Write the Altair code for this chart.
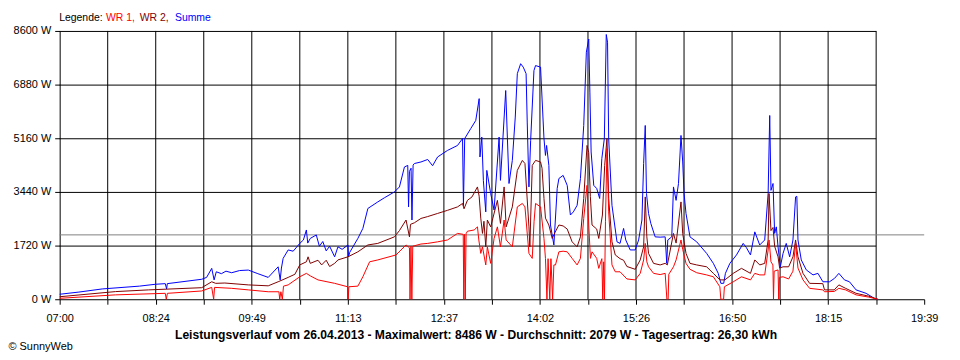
import altair as alt
import pandas as pd

# ---------------- data ----------------
legend_labels = ["Legende:", "WR 1,", "WR 2,", "Summe"]
legend_colors = ["#000000", "#FF0000", "#800000", "#0000FF"]
series_names = ["Summe", "WR 2", "WR 1"]
series_colors = ["#0000FF", "#800000", "#FF0000"]
x_tick_labels = ["07:00", "08:24", "09:49", "11:13", "12:37", "14:02",
                 "15:26", "16:50", "18:15", "19:39"]
y_tick_values = [0, 1720, 3440, 5160, 6880, 8600]
average_w = 2079
title_text = ("Leistungsverlauf vom 26.04.2013 - Maximalwert: 8486 W - "
              "Durchschnitt: 2079 W - Tagesertrag: 26,30 kWh")
copyright_text = "© SunnyWeb"

# (minutes since midnight, watts)
summe = [(420.0,160),(436.9,230),(457.3,330),(490.0,420),(504.0,480),(512.7,500),(513.9,330),(514.5,500),
 (544.7,640),(549.0,700),(553.5,990),(555.6,620),(557.5,880),(562.0,820),(566.0,900),(571.0,850),(578.0,920),
 (585.6,935),(594.0,820),(603.1,700),(611.8,1040),(613.6,620),(614.7,1000),(616.2,1310),(620.6,1580),(625.0,1540),
 (630.8,1790),(634.0,1900),(636.6,2220),(637.8,1800),(640.0,1950),(645.3,2060),(648.0,1700),(651.0,1850),
 (654.0,1550),(657.0,1700),(661.4,1360),(664.3,1680),(668.0,1600),(673.1,1740),(673.6,1360),(674.6,1500),
 (681.8,1950),(686.2,2270),(690.6,2910),(699.3,3120),(705.0,3250),(713.9,3440),(718.3,3600),(722.7,4240),
 (725.6,4290),(726.3,2960),(727.1,4100),(728.5,4200),(729.3,2540),(730.3,4300),(731.4,4350),(737.2,4400),
 (743.1,4480),(747.4,4280),(751.8,4560),(760.5,4770),(769.3,4930),(773.7,5150),(774.5,3000),(775.6,5150),
 (780.9,5470),(785.3,5730),(788.3,6430),(789.0,4560),(790.6,5200),(792.0,3800),(794.1,2800),(795.0,4130),
 (798.4,3390),(801.4,2860),(805.8,5200),(807.0,3810),(811.6,6690),(814.5,3710),(817.4,4450),(820.0,5840),
 (821.8,7230),(824.7,7550),(827.0,7440),(829.5,7230),(830.5,5680),(832.0,3600),(833.5,5090),(836.4,7330),
 (837.8,7490),(842.2,7440),(845.2,5150),(846.5,4610),(847.5,4930),(849.5,4290),(850.9,2380),(853.9,1740),
 (856.8,3550),(858.3,3870),(862.0,3970),(865.6,3650),(868.4,2700),(871.0,2800),(874.3,3010),(877.2,3870),
 (880.1,5570),(882.4,7920),(884.5,8340),(885.5,6640),(886.6,4720),(888.9,3650),(891.5,3550),(894.1,3230),
 (896.0,4510),(898.2,5150),(899.9,8486),(901.0,8240),(902.0,5150),(904.9,3010),(909.3,1840),(912.0,1790),
 (915.1,2270),(917.0,1900),(920.9,1580),(925.3,1580),(928.3,1900),(931.2,2540),(932.7,4350),(934.1,5570),
 (935.2,3390),(937.0,2750),(939.0,2430),(942.8,2000),(947.2,1990),(951.6,2000),(953.0,1150),(953.9,1900),
 (957.4,2000),(958.9,3600),(961.2,3170),(963.3,3710),(965.5,5250),(967.0,4400),(968.2,3390),(969.9,2750),
 (973.4,2000),(979.3,1840),(988.0,1470),(993.9,1150),(998.2,830),(1000.5,510),(1003.0,510),(1004.5,830),
 (1008.4,1150),(1014.2,1420),(1020.1,1790),(1023.0,1650),(1026.5,1420),(1030.3,2160),(1034.6,1740),
 (1039.0,1900),(1042.0,3390),(1043.4,5890),(1044.5,3490),(1046.3,3710),(1047.7,2110),(1049.2,2320),
 (1050.7,1680),(1052.7,1040),(1055.1,1470),(1057.9,1790),(1060.9,1360),(1063.8,1900),(1066.1,3280),
 (1067.2,3300),(1068.2,1900),(1071.1,1260),(1075.5,940),(1081.4,780),(1085.7,830),(1090.1,560),(1095.9,560),
 (1100.3,670),(1104.1,830),(1109.0,620),(1113.4,560),(1119.2,300),(1128.0,190),(1135.2,30),(1138.2,0)]

wr2 = [(420.0,80),(469.0,245),(498.1,300),(544.7,370),(553.5,560),(557.0,510),(565.0,520),(585.6,460),
 (603.1,430),(611.8,560),(620.6,700),(626.5,800),(630.8,1100),(636.6,1200),(638.1,1360),(640.0,1150),
 (646.8,1250),(650.0,1100),(654.0,1250),(657.0,1050),(661.4,1150),(664.3,1260),(673.1,1360),(681.8,1520),
 (690.6,1740),(699.3,1790),(713.9,2000),(718.3,2200),(724.1,2540),(727.1,2000),(728.0,2400),(731.4,2450),
 (737.2,2590),(743.1,2650),(751.8,2750),(760.5,2850),(769.3,2960),(773.7,3070),(775.0,2900),(778.0,3170),
 (782.0,3280),(786.8,3600),(788.3,3300),(789.7,2600),(791.2,2110),(792.5,2500),(794.1,1680),(795.5,2540),
 (798.4,2320),(804.3,3170),(807.0,2430),(810.2,3600),(812.0,2320),(817.4,2960),(821.8,4130),(826.2,4450),
 (828.5,4350),(832.0,2320),(832.8,1680),(834.9,4290),(837.8,4450),(842.2,4400),(843.5,4200),(845.2,3230),
 (846.5,2600),(849.5,2380),(852.4,1950),(855.0,2150),(858.3,2380),(862.0,2350),(865.6,2250),(869.9,1840),
 (874.3,1680),(877.2,2000),(880.1,3230),(883.0,4930),(884.5,4700),(885.9,3300),(887.4,2380),(891.5,2250),
 (893.3,1950),(896.5,2700),(898.5,4290),(900.5,5150),(902.0,3230),(904.9,1840),(907.8,1420),(912.0,1300),
 (915.1,1250),(918.0,1050),(925.3,960),(929.7,1260),(932.7,1680),(934.1,3280),(935.5,2000),(937.0,1470),
 (941.4,1150),(947.2,1100),(951.6,1150),(953.5,1100),(958.9,2110),(961.2,1800),(965.5,3120),(967.0,2100),
 (969.9,1470),(973.4,1150),(979.3,1100),(988.0,1040),(993.9,830),(999.6,620),(1004.0,620),(1011.4,830),
 (1018.6,990),(1026.5,830),(1030.3,1260),(1034.6,1100),(1039.0,1150),(1042.0,1900),(1042.8,3390),
 (1044.5,2200),(1046.3,2300),(1047.7,1700),(1050.7,1360),(1052.1,1000),(1055.1,1040),(1060.0,1040),
 (1063.8,1360),(1066.1,1900),(1068.2,1360),(1072.6,830),(1078.4,510),(1090.0,500),(1091.5,300),(1100.0,300),
 (1104.1,460),(1110.0,350),(1119.2,190),(1130.0,100),(1138.2,0)]

wr1 = [(420.0,30),(469.0,140),(512.7,190),(513.6,0),(514.6,190),(544.7,265),(553.5,380),(555.2,0),(556.0,380),
 (571.0,350),(585.6,300),(603.1,240),(612.5,240),(613.2,0),(614.2,240),(615.5,0),(616.5,420),(620.6,460),
 (630.8,720),(636.6,830),(640.0,750),(646.8,620),(661.4,510),(672.8,400),(673.3,0),(673.9,400),(681.8,420),
 (686.2,720),(692.1,1200),(699.3,1260),(715.3,1420),(724.1,1740),(727.1,1650),(727.6,0),(728.4,1700),
 (729.2,0),(730.0,1700),(737.2,1770),(743.1,1790),(751.8,1840),(760.5,1900),(769.3,2110),(774.3,2080),
 (774.8,0),(775.4,2080),(776.1,0),(776.8,2100),(778.0,2180),(783.9,2220),(786.8,2320),(788.0,1900),
 (789.7,1470),(791.2,1680),(794.1,1100),(795.5,1680),(798.4,1150),(801.4,1950),(804.3,2320),(807.0,1680),
 (810.2,2540),(812.0,1900),(817.4,1680),(821.8,2960),(826.2,3070),(828.5,2960),(832.0,1470),(834.9,1310),
 (836.5,2500),(837.8,3070),(842.2,2960),(845.2,1950),(846.5,1310),(847.8,0),(848.8,1300),(850.3,0),
 (851.3,1300),(852.8,0),(853.9,1100),(855.3,1100),(858.3,1520),(862.0,1540),(865.6,1520),(869.9,1310),
 (874.3,1100),(877.2,1310),(880.1,2590),(883.0,3650),(884.5,2380),(886.0,1310),(887.4,1520),(891.5,1310),
 (893.3,990),(896.0,1300),(896.8,0),(897.6,1200),(898.3,0),(899.2,2500),(900.5,4830),(902.0,2800),
 (904.9,1100),(907.8,880),(912.0,880),(918.0,650),(925.3,620),(929.7,830),(932.7,1260),(934.1,1790),
 (935.5,1200),(937.0,1040),(941.4,830),(947.2,790),(951.6,830),(953.1,0),(954.2,0),(954.8,800),(958.9,1040),
 (961.2,1260),(965.5,1900),(967.0,1600),(969.9,1150),(973.4,960),(979.3,850),(988.0,780),(993.9,720),
 (999.6,400),(1000.5,0),(1002.9,0),(1003.6,400),(1011.4,560),(1018.6,720),(1026.5,620),(1030.3,830),
 (1034.6,780),(1039.0,780),(1042.0,1580),(1042.8,1900),(1044.5,1200),(1046.2,1100),(1046.7,0),(1047.3,900),
 (1050.7,940),(1051.3,0),(1051.9,700),(1055.1,720),(1060.0,650),(1063.8,900),(1066.1,1790),(1068.2,1000),
 (1072.6,620),(1078.4,350),(1090.0,300),(1091.5,240),(1100.0,250),(1104.1,350),(1110.0,300),(1119.2,140),
 (1130.0,70),(1138.2,0)]

# ---------------- layout ----------------
W, H = 870, 270
FONT = "Liberation Sans"
x_start, x_end = 420, 1179
n_steps = 18
step = (x_end - x_start) / n_steps
x_ticks = [x_start + i * step for i in range(n_steps + 1)]
tick_label_list = []
for i in range(n_steps + 1):
    tick_label_list.append(x_tick_labels[i // 2] if i % 2 == 0 else "")
label_array = "[" + ",".join("'" + s + "'" for s in tick_label_list) + "]"
label_expr = f"{label_array}[round((datum.value - {x_start}) / {step})]"

xscale = alt.Scale(domain=[x_start, x_end], nice=False, zero=False)
yscale = alt.Scale(domain=[0, 8600], nice=False, zero=True)

x_axis = alt.Axis(values=x_ticks, labelExpr=label_expr, tickSize=5, tickColor="black",
                  domainColor="black", labelColor="black", labelFont=FONT, labelFontSize=11,
                  labelPadding=8, grid=False, title=None, labelFlush=False, labelOverlap=False,
                  domainWidth=1, tickWidth=1)
y_axis = alt.Axis(values=y_tick_values, labelExpr="datum.value + ' W'", tickSize=5,
                  tickColor="black", domainColor="black", labelColor="black", labelFont=FONT,
                  labelFontSize=11, labelPadding=4, grid=False, title=None, domainWidth=1,
                  tickWidth=1)

X = lambda f: alt.X(f, scale=xscale, axis=x_axis)
Y = lambda f: alt.Y(f, scale=yscale, axis=y_axis)

# vertical grid lines (ticks 1..17)
vgrid = alt.Chart(pd.DataFrame({"t": x_ticks[1:-1]})).mark_rule(color="black", strokeWidth=1).encode(
    x=X("t:Q"), y=alt.value(0), y2=alt.value(H))

# horizontal grid lines stop at the 17th tick
hgrid_df = pd.DataFrame({"w": y_tick_values[1:], "x0": x_start, "x1": x_ticks[-2]})
hgrid = alt.Chart(hgrid_df).mark_rule(color="black", strokeWidth=1, yOffset=0.5).encode(
    x=X("x0:Q"), x2="x1:Q", y=Y("w:Q"))

avg_df = pd.DataFrame({"w": [average_w], "x0": [x_start], "x1": [x_end]})
avg = alt.Chart(avg_df).mark_rule(color="#808080", strokeWidth=1, yOffset=0.5).encode(
    x=X("x0:Q"), x2="x1:Q", y=Y("w:Q"))

series_data = {"Summe": summe, "WR 2": wr2, "WR 1": wr1}
lines = []
for name, col in zip(series_names, series_colors):
    df = pd.DataFrame(series_data[name], columns=["t", "w"])
    lines.append(alt.Chart(df).mark_line(color=col, strokeWidth=1, interpolate="linear").encode(
        x=X("t:Q"), y=Y("w:Q")))

# legend line at the top
legend_x = [-0.5, 46.5, 80.5, 116]
legend_layers = []
for lab, col, lx in zip(legend_labels, legend_colors, legend_x):
    legend_layers.append(alt.Chart(pd.DataFrame({"s": [lab]})).mark_text(
        align="left", baseline="alphabetic", font=FONT, fontSize=10.5, color=col).encode(
        x=alt.value(lx), y=alt.value(-10), text="s:N"))

title_layer = alt.Chart(pd.DataFrame({"s": [title_text]})).mark_text(
    align="center", baseline="alphabetic", font=FONT, fontSize=12.2, fontWeight="bold",
    color="black").encode(x=alt.value(419), y=alt.value(310), text="s:N")

copy_layer = alt.Chart(pd.DataFrame({"s": [copyright_text]})).mark_text(
    align="left", baseline="alphabetic", font=FONT, fontSize=11, color="black").encode(
    x=alt.value(-51.5), y=alt.value(321), text="s:N")

chart = alt.layer(vgrid, hgrid, avg, *lines, *legend_layers, title_layer, copy_layer).properties(
    width=W, height=H,
    padding={"left": 52, "top": 22, "right": 28, "bottom": 52},
    autosize=alt.AutoSizeParams(type="none"),
    background="white",
).configure_view(stroke=None)

chart.save("out.html", embed_options={"renderer": "svg", "actions": False})
